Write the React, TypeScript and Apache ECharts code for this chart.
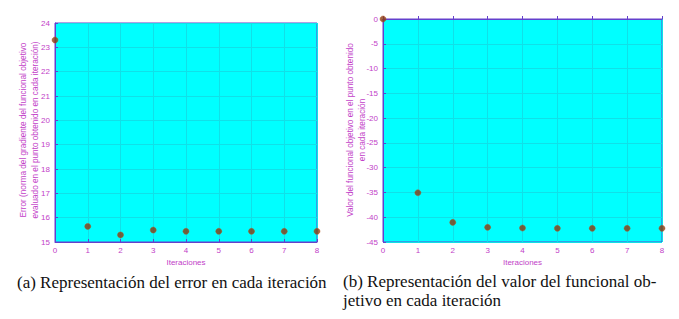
import React, { useEffect, useRef } from "react";
import * as echarts from "echarts";

const iterations = [0, 1, 2, 3, 4, 5, 6, 7, 8];
const errorValues = [23.3, 15.64, 15.29, 15.49, 15.44, 15.44, 15.44, 15.44, 15.44];
const objectiveValues = [0, -35.06, -41.04, -42.04, -42.18, -42.24, -42.24, -42.24, -42.24];

const xTicks = [0, 1, 2, 3, 4, 5, 6, 7, 8];
const leftYAxisName = "Error (norma del gradiente del funcional objetivo\nevaluado en el punto obtenido en cada iteración)";
const rightYAxisName = "Valor del funcional objetivo en el punto obtenido\nen cada iteración";
const xAxisName = "Iteraciones";
const captionA = "(a) Representación del error en cada iteración";
const captionB1 = "(b) Representación del valor del funcional ob-";
const captionB2 = "jetivo en cada iteración";

const AXIS = "#6440cc";
const LABEL = "#c23ec8";
const GRIDLINE = "#10e0e8";
const BG = "#00ffff";
const POINT = "#8a3a10";
const SANS = "Liberation Sans";

export default function App() {
  const ref = useRef<HTMLDivElement>(null);
  useEffect(() => {
    if (!ref.current) return;
    const chart = echarts.init(ref.current, undefined, { renderer: "svg" });
    const xAxisCommon = (gridIndex: number) => ({
      type: "value",
      gridIndex,
      min: 0,
      max: 8,
      interval: 1,
      name: xAxisName,
      nameLocation: "middle",
      nameGap: 16,
      nameTextStyle: { color: LABEL, fontSize: 8, fontFamily: SANS },
      axisLine: { show: true, lineStyle: { color: AXIS, width: 1 } },
      axisTick: { show: true, inside: true, length: 3, lineStyle: { color: AXIS } },
      axisLabel: {
        color: LABEL,
        fontSize: 8,
        fontFamily: SANS,
        margin: 4,
        formatter: (v: number) => (xTicks.includes(v) ? String(v) : ""),
      },
      splitLine: { show: true, lineStyle: { color: GRIDLINE, width: 1 } },
    });
    const yAxisCommon = (gridIndex: number, min: number, max: number, interval: number) => ({
      type: "value",
      gridIndex,
      min,
      max,
      interval,
      axisLine: { show: true, lineStyle: { color: AXIS, width: 1 } },
      axisTick: { show: true, inside: true, length: 3, lineStyle: { color: AXIS } },
      axisLabel: { color: LABEL, fontSize: 8, fontFamily: SANS, margin: 5 },
      splitLine: { show: true, lineStyle: { color: GRIDLINE, width: 1 } },
    });
    const yName = (text: string, x: number, y: number) => ({
      type: "text",
      x,
      y,
      rotation: Math.PI / 2,
      style: {
        text,
        fill: LABEL,
        fontSize: 8.2,
        fontFamily: SANS,
        lineHeight: 12,
        align: "center",
        verticalAlign: "middle",
      },
    });
    chart.setOption({
      animation: false,
      backgroundColor: "#ffffff",
      grid: [
        { left: 55, right: 362, top: 23, bottom: 77, show: true, backgroundColor: BG, borderColor: AXIS, borderWidth: 1 },
        { left: 383, right: 17, top: 19, bottom: 77, show: true, backgroundColor: BG, borderColor: AXIS, borderWidth: 1 },
      ],
      xAxis: [xAxisCommon(0), xAxisCommon(1)],
      yAxis: [yAxisCommon(0, 15, 24, 1), yAxisCommon(1, -45, 0, 5)],
      series: [
        {
          type: "scatter",
          xAxisIndex: 0,
          yAxisIndex: 0,
          data: iterations.map((x, i) => [x, errorValues[i]]),
          symbolSize: 6,
          clip: false,
          itemStyle: { color: POINT, borderColor: "#b3561c", borderWidth: 0.6 },
        },
        {
          type: "scatter",
          xAxisIndex: 1,
          yAxisIndex: 1,
          data: iterations.map((x, i) => [x, objectiveValues[i]]),
          symbolSize: 6,
          clip: false,
          itemStyle: { color: POINT, borderColor: "#b3561c", borderWidth: 0.6 },
        },
      ],
      graphic: [
        yName(leftYAxisName, 29, 130),
        yName(rightYAxisName, 356, 130),
        {
          type: "text",
          left: 17,
          top: 274,
          style: { text: captionA, fill: "#111", fontSize: 17, fontFamily: "Liberation Serif" },
        },
        {
          type: "text",
          left: 343,
          top: 273,
          style: { text: captionB1, fill: "#111", fontSize: 17, fontFamily: "Liberation Serif" },
        },
        {
          type: "text",
          left: 343,
          top: 292,
          style: { text: captionB2, fill: "#111", fontSize: 17, fontFamily: "Liberation Serif" },
        },
      ],
    });
    return () => chart.dispose();
  }, []);
  return <div ref={ref} style={{ width: 679, height: 319, position: "absolute", left: 0, top: 0 }} />;
}
